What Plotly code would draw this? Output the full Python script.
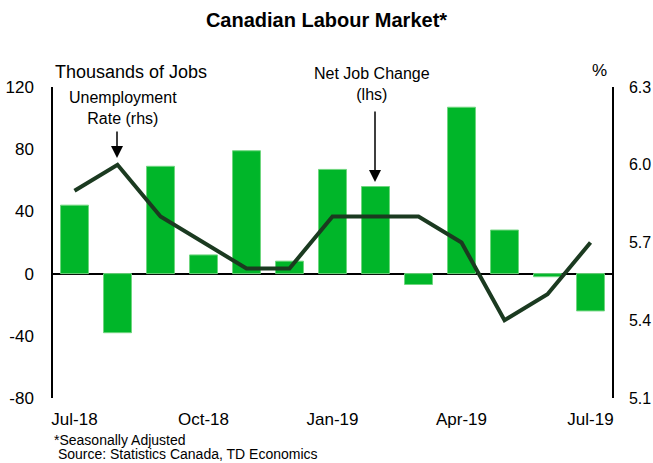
import plotly.graph_objects as go

months = ["Jul-18", "Aug-18", "Sep-18", "Oct-18", "Nov-18", "Dec-18", "Jan-19",
          "Feb-19", "Mar-19", "Apr-19", "May-19", "Jun-19", "Jul-19"]
job_change = [44, -38, 69, 12, 79, 8, 67, 56, -7, 107, 28, -2, -24]
unemp_rate = [5.9, 6.0, 5.8, 5.7, 5.6, 5.6, 5.8, 5.8, 5.8, 5.7, 5.4, 5.5, 5.7]
tick_months = ["Jul-18", "Oct-18", "Jan-19", "Apr-19", "Jul-19"]
left_ticks = [-80, -40, 0, 40, 80, 120]
left_labels = ["-80", "-40", "0", "40", "80", "120"]
right_ticks = [5.1, 5.4, 5.7, 6.0, 6.3]
right_labels = ["5.1", "5.4", "5.7", "6.0", "6.3"]

FONT = "Liberation Sans, Arial, sans-serif"

fig = go.Figure()
fig.add_trace(go.Bar(x=months, y=job_change, name="Net Job Change (lhs)",
                     marker=dict(color="#00B629", line=dict(color="#6fd67f", width=1)),
                     yaxis="y"))
fig.add_trace(go.Scatter(x=months, y=unemp_rate, name="Unemployment Rate (rhs)",
                         mode="lines", line=dict(color="#1b3a20", width=4),
                         yaxis="y2"))

fig.update_layout(
    width=653, height=463,
    margin=dict(l=53, r=41, t=87, b=65),
    paper_bgcolor="white", plot_bgcolor="white",
    showlegend=False,
    bargap=0.35,
    font=dict(family=FONT, size=17, color="black"),
    title=dict(text="<b>Canadian Labour Market*</b>", x=0.5, xanchor="center",
               y=1 - 20 / 463, yanchor="middle",
               font=dict(family=FONT, size=20, color="black")),
    xaxis=dict(type="category", categoryorder="array", categoryarray=months,
               tickmode="array", tickvals=tick_months, ticktext=tick_months,
               showline=False, showgrid=False, ticks="", ticklabelstandoff=9,
               automargin=False, tickfont=dict(size=17)),
    yaxis=dict(range=[-80, 120], tickmode="array", tickvals=left_ticks,
               ticktext=left_labels, showgrid=False,
               showline=True, linecolor="black", linewidth=1.5,
               zeroline=True, zerolinecolor="black", zerolinewidth=1.5,
               ticks="", ticklabelstandoff=14, automargin=False,
               tickfont=dict(size=17)),
    yaxis2=dict(range=[5.1, 6.3], tickmode="array", tickvals=right_ticks,
                ticktext=right_labels,
                overlaying="y", side="right", showgrid=False, zeroline=False,
                showline=True, linecolor="black", linewidth=1.5,
                ticks="", ticklabelstandoff=12, automargin=False,
                tickfont=dict(size=16)),
)

annotations = [
    dict(text="Thousands of Jobs", x=0, y=(398 - 72) / 311, xref="paper", yref="paper",
         xanchor="left", yanchor="middle", showarrow=False, font=dict(size=18)),
    dict(text="%", x=(599 - 53) / 559, y=(398 - 70) / 311, xref="paper", yref="paper",
         xanchor="center", yanchor="middle", showarrow=False, font=dict(size=17)),
    dict(text="Unemployment<br>Rate (rhs)", x=(123 - 53) / 559, y=(398 - 108) / 311,
         xref="paper", yref="paper", xanchor="center", yanchor="middle",
         showarrow=False, font=dict(size=16)),
    dict(text="", x=(117 - 53) / 559, y=(398 - 158) / 311, xref="paper", yref="paper",
         showarrow=True, ax=0, ay=-28, arrowhead=2, arrowsize=1.6, arrowwidth=1.5,
         arrowcolor="black"),
    dict(text="Net Job Change<br>(lhs)", x=(372 - 53) / 559, y=(398 - 84) / 311,
         xref="paper", yref="paper", xanchor="center", yanchor="middle",
         showarrow=False, font=dict(size=16)),
    dict(text="", x=(375 - 53) / 559, y=(398 - 182) / 311, xref="paper", yref="paper",
         showarrow=True, ax=0, ay=-72, arrowhead=2, arrowsize=1.6, arrowwidth=1.5,
         arrowcolor="black"),
    dict(text="*Seasonally Adjusted", x=-0.002, y=(398 - 440) / 311, xref="paper",
         yref="paper", xanchor="left", yanchor="middle", showarrow=False,
         font=dict(size=14)),
    dict(text=" Source: Statistics Canada, TD Economics", x=-0.002, y=(398 - 454) / 311,
         xref="paper", yref="paper", xanchor="left", yanchor="middle", showarrow=False,
         font=dict(size=14)),
]
fig.update_layout(annotations=annotations)

fig.write_html("out.html", config={"displayModeBar": False})

with open("out.html", "r", encoding="utf-8") as f:
    html = f.read()
html = html.replace("<head>", "<head><style>html,body{margin:0;padding:0;overflow:hidden;}</style>", 1)
with open("out.html", "w", encoding="utf-8") as f:
    f.write(html)
